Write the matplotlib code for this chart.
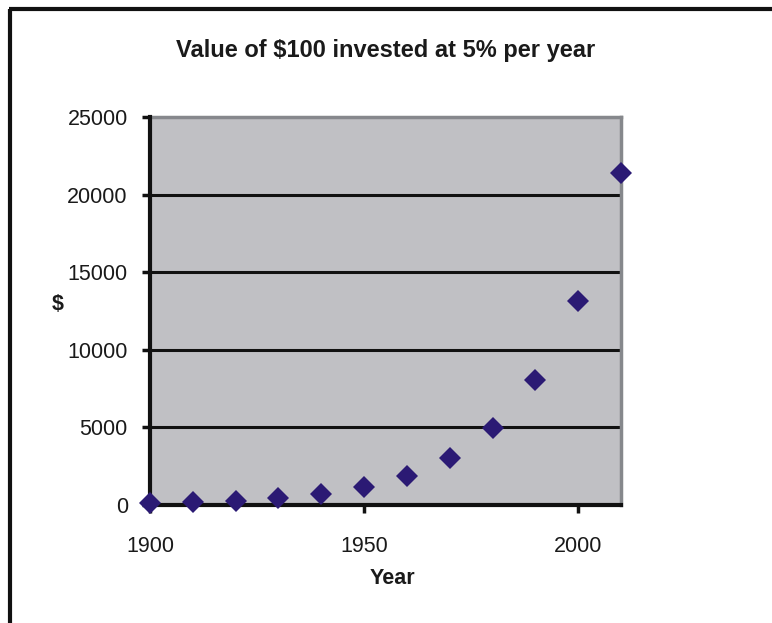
import matplotlib
matplotlib.use("Agg")
import matplotlib.pyplot as plt
from matplotlib.lines import Line2D
from matplotlib import font_manager

years = [1900, 1910, 1920, 1930, 1940, 1950, 1960, 1970, 1980, 1990, 2000, 2010]
values = [100, 163, 265, 432, 704, 1147, 1868, 3043, 4956, 8073, 13150, 21420]
x_ticks = [1900, 1950, 2000]
y_ticks = [0, 5000, 10000, 15000, 20000, 25000]
title = "Value of $100 invested at 5% per year"

names = {f.name for f in font_manager.fontManager.ttflist}
narrow = "Liberation Sans Narrow" if "Liberation Sans Narrow" in names else "Liberation Sans"
plt.rcParams['font.family'] = ['Liberation Sans', 'DejaVu Sans']

fig = plt.figure(figsize=(7.72, 6.23), dpi=100)
ax = fig.add_axes([150/772, 1-505/623, (621-150)/772, (505-117)/623])
ax.set_facecolor('#c0c0c4')

ax.plot(years, values, linestyle='none', marker='D', markersize=11,
        color='#2b1a74', markeredgewidth=0, clip_on=False, zorder=5)

ax.set_xlim(1900, 2010)
ax.set_ylim(0, 25000)
ax.set_xticks(x_ticks)
ax.set_yticks(y_ticks)
ax.set_xticklabels([str(v) for v in x_ticks])
ax.set_yticklabels([str(v) for v in y_ticks])

for v in y_ticks[1:-1]:
    ax.axhline(v, color='#111111', linewidth=2.2, zorder=2)

for s in ['left', 'bottom']:
    ax.spines[s].set_color('#111111')
    ax.spines[s].set_linewidth(3)
    ax.spines[s].set_zorder(3)
for s in ['top', 'right']:
    ax.spines[s].set_color('#86888c')
    ax.spines[s].set_linewidth(2.5)

ax.tick_params(axis='both', direction='out', length=6, width=2.5, color='#111111',
               labelsize=15.5, labelcolor='#1a1a1a')
ax.tick_params(axis='y', pad=10)
ax.tick_params(axis='x', pad=16)

ax.set_title(title, fontsize=17, fontweight='bold', family=[narrow, 'DejaVu Sans'],
             color='#1a1a1a', pad=0, y=1 + (117-43)/388 - 0.035)
fig.text(392/772, 1-578/623, "Year", fontsize=15.5, fontweight='bold', ha='center', va='center', color='#1a1a1a')
fig.text(58/772, 1-305/623, "$", fontsize=15.5, fontweight='bold', ha='center', va='center', color='#1a1a1a')

fig.add_artist(Line2D([10/772, 10/772], [0, 1-9/623], transform=fig.transFigure,
                      color='#111111', linewidth=3, solid_capstyle='butt'))
fig.add_artist(Line2D([8.9/772, 1], [1-9/623, 1-9/623], transform=fig.transFigure,
                      color='#111111', linewidth=3, solid_capstyle='butt'))

fig.savefig("out.png", dpi=100)
